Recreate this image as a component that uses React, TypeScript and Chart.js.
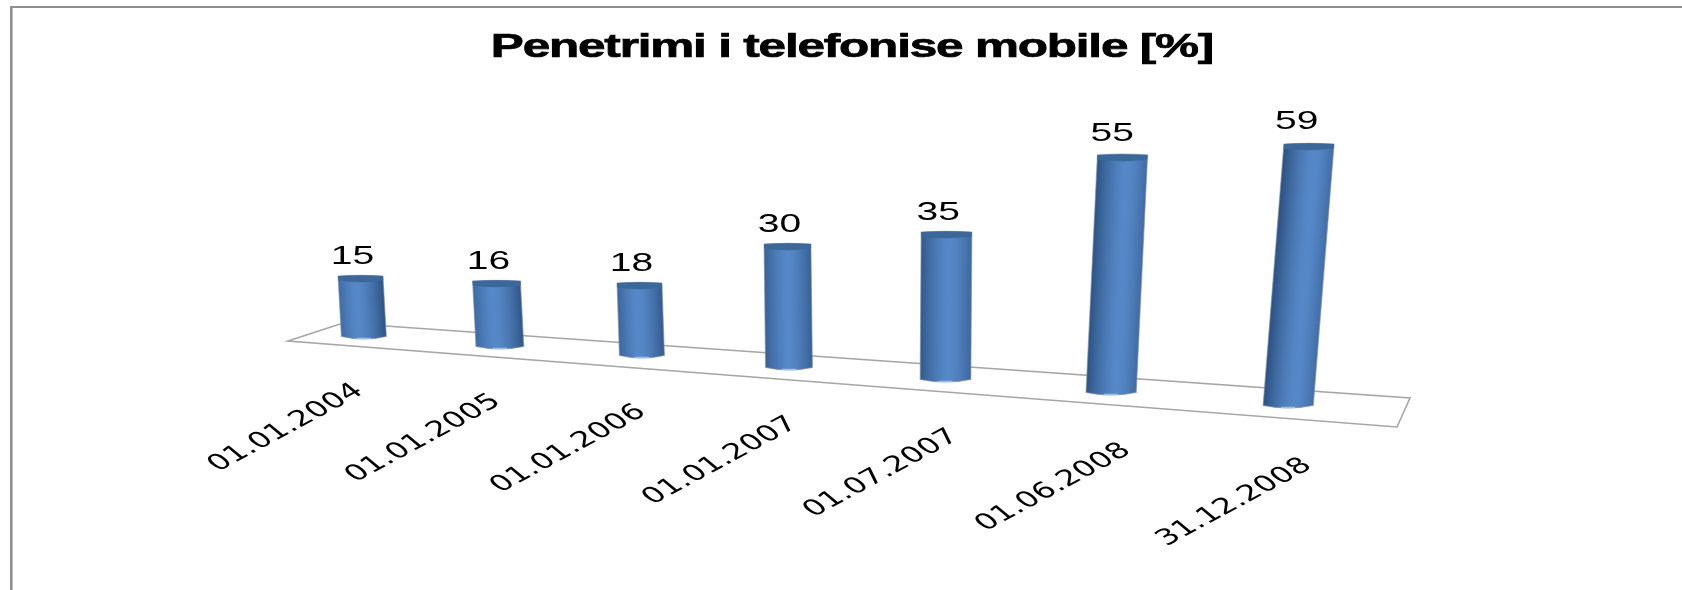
import React, { useEffect, useRef } from "react";
import { Chart, registerables } from "chart.js";

Chart.register(...registerables);

// ---- data ----
const categories = ["01.01.2004", "01.01.2005", "01.01.2006", "01.01.2007", "01.07.2007", "01.06.2008", "31.12.2008"];
const values = [15, 16, 18, 30, 35, 55, 59];
const titleText = "Penetrimi i telefonise mobile [%]";

// ---- perspective of the tilted 3D view (per category, applied to the scale's own geometry) ----
const depthShiftX = [0, -18, -30, -37, -34.5, -23, 0];
const floorDrop = [0, 10, 19, 31, 43, 56, 69];
const heightGain = [0.991, 1.003, 0.983, 0.991, 1.011, 1.03, 1.056];
const leanX = [-3.5, -3.5, -2.5, -1.5, 1, 11.5, 21];
const widthGain = [0.94, 1.0, 0.94, 0.98, 1.06, 1.05, 1.05];
const lightPos = [0.4, 0.42, 0.45, 0.5, 0.56, 0.6, 0.62];
const tickShiftX = [-78, -76.5, -73.5, -68.5, -64, -57.5, -53.5];
const tickDropY = [89, 89.5, 91, 91, 91.5, 92.5, 94.5];

const FONT = '"Liberation Sans", Arial, sans-serif';
const TICK_FONT = '"DejaVu Sans", sans-serif';
const STRETCH = 1.5;

function hex(c: string) {
  return [1, 3, 5].map((i) => parseInt(c.slice(i, i + 2), 16));
}
function mix(a: string, b: string, t: number) {
  const A = hex(a);
  const B = hex(b);
  return `rgb(${A.map((v, i) => Math.round(v + (B[i] - v) * t)).join(",")})`;
}

function drawCylinder(ctx: CanvasRenderingContext2D, cx: number, by: number, ty: number, w: number, lean: number, p: number) {
  const h = by - ty;
  const c = -lean / h;
  ctx.save();
  ctx.transform(1, 0, c, 1, -c * by, 0);
  const l = cx - w / 2;
  const r = cx + w / 2;
  const g = ctx.createLinearGradient(l, 0, r, 0);
  for (let i = 0; i <= 14; i++) {
    const t = i / 14;
    const d = Math.min(1, Math.pow(Math.abs(t - p) / 0.62, 1.5));
    g.addColorStop(t, mix("#5688c8", "#2c5080", d));
  }
  ctx.beginPath();
  ctx.moveTo(l, ty);
  ctx.lineTo(l, by - 2.5);
  ctx.quadraticCurveTo(cx, by + 2.5, r, by - 2.5);
  ctx.lineTo(r, ty);
  ctx.quadraticCurveTo(cx, ty - 1.5, l, ty);
  ctx.closePath();
  ctx.fillStyle = g;
  ctx.fill();
  ctx.strokeStyle = "rgba(125,140,160,0.6)";
  ctx.lineWidth = 1.2;
  ctx.stroke();
  // top cap
  ctx.beginPath();
  ctx.moveTo(l, ty);
  ctx.quadraticCurveTo(cx, ty - 1.5, r, ty);
  ctx.lineTo(r, ty + 4.5);
  ctx.quadraticCurveTo(cx, ty + 8, l, ty + 4.5);
  ctx.closePath();
  ctx.fillStyle = "#3c6799";
  ctx.fill();
  // reflected light at the foot
  ctx.beginPath();
  ctx.moveTo(cx - 7, by - 0.5);
  ctx.lineTo(cx + 7, by - 0.5);
  ctx.strokeStyle = "#9dbfe8";
  ctx.lineWidth = 1.6;
  ctx.stroke();
  ctx.restore();
}

function stretchedText(
  ctx: CanvasRenderingContext2D,
  text: string,
  x: number,
  y: number,
  font: string,
  baseline: CanvasTextBaseline,
  angle = 0,
  spacing = 0,
  weight = 0
) {
  ctx.save();
  ctx.translate(x, y);
  ctx.scale(STRETCH, 1);
  ctx.rotate(angle);
  ctx.font = font;
  (ctx as any).letterSpacing = `${spacing}px`;
  ctx.fillStyle = "#000";
  ctx.textAlign = "center";
  ctx.textBaseline = baseline;
  ctx.fillText(text, 0, 0);
  if (weight > 0) {
    ctx.strokeStyle = "#000";
    ctx.lineWidth = weight;
    ctx.strokeText(text, 0, 0);
  }
  ctx.restore();
}

const view3d = {
  id: "view3d",
  beforeDatasetsDraw(chart: any) {
    const ctx: CanvasRenderingContext2D = chart.ctx;
    ctx.save();
    // chart frame (open at right and bottom, cropped in the reference)
    ctx.strokeStyle = "#8f8f8f";
    ctx.lineWidth = 2;
    ctx.beginPath();
    ctx.moveTo(1682, 7);
    ctx.lineTo(11, 7);
    ctx.stroke();
    ctx.lineWidth = 2.6;
    ctx.beginPath();
    ctx.moveTo(11.3, 590);
    ctx.lineTo(11.3, 6);
    ctx.stroke();
    // floor of the 3D box
    ctx.strokeStyle = "#a6a6a6";
    ctx.lineWidth = 1.6;
    ctx.beginPath();
    ctx.moveTo(288, 341);
    ctx.lineTo(343, 323);
    ctx.lineTo(1410, 398);
    ctx.lineTo(1397, 427);
    ctx.closePath();
    ctx.stroke();
    ctx.restore();
  },
  afterDatasetsDraw(chart: any) {
    const ctx: CanvasRenderingContext2D = chart.ctx;
    const meta = chart.getDatasetMeta(0);
    meta.data.forEach((bar: any, i: number) => {
      const { x, y, base, width } = bar.getProps(["x", "y", "base", "width"], true);
      const cx = x + depthShiftX[i];
      const by = base + floorDrop[i];
      const ty = by - (base - y) * heightGain[i];
      const lean = leanX[i];
      drawCylinder(ctx, cx, by, ty, width * widthGain[i], lean, lightPos[i]);
      const lx = cx + lean - 8 - Math.max(0, lean) * 0.2;
      const ly = ty - 19 - Math.max(0, lean) * 0.15;
      stretchedText(ctx, String(values[i]), lx, ly, `26px ${FONT}`, "middle");
      stretchedText(ctx, categories[i], cx + tickShiftX[i], by + tickDropY[i], `22px ${TICK_FONT}`, "middle", (-39 * Math.PI) / 180);
    });
    stretchedText(ctx, titleText, 852, 57, `bold 33px ${FONT}`, "alphabetic", 0, -0.8, 0.7);
  },
};

export default function App() {
  const ref = useRef<HTMLCanvasElement>(null);
  useEffect(() => {
    const chart = new Chart(ref.current!, {
      type: "bar",
      data: {
        labels: categories,
        datasets: [
          {
            label: titleText,
            data: values,
            backgroundColor: "transparent",
            borderWidth: 0,
            barPercentage: 0.5,
            categoryPercentage: 0.62,
          },
        ],
      },
      options: {
        animation: false,
        responsive: false,
        layout: { padding: { left: 287, right: 317, top: 0, bottom: 251 } },
        plugins: { legend: { display: false }, title: { display: false }, tooltip: { enabled: false } },
        scales: {
          x: { display: false },
          y: { display: false, min: 0, max: 80 },
        },
      },
      plugins: [view3d],
    } as any);
    return () => chart.destroy();
  }, []);
  return (
    <div style={{ position: "fixed", left: 0, top: 0, width: 1682, height: 590, background: "#fff" }}>
      <canvas ref={ref} width={1682} height={590} style={{ display: "block" }} />
    </div>
  );
}
